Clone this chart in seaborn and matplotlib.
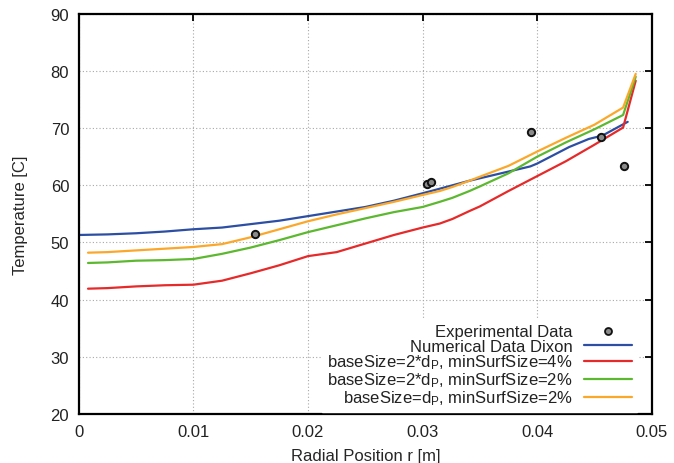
import numpy as np
import pandas as pd
import matplotlib
matplotlib.use("Agg")
import matplotlib.pyplot as plt
import seaborn as sns
from matplotlib.lines import Line2D

# Dados
r_dixon = [0.0, 0.0025, 0.005, 0.0075, 0.01, 0.0125, 0.015, 0.0175, 0.02, 0.0225,
           0.025, 0.0275, 0.03, 0.0315, 0.0341, 0.0375, 0.0394, 0.04, 0.0428, 0.0445,
           0.0457, 0.0479]
t_dixon = [51.3, 51.4, 51.6, 51.9, 52.3, 52.6, 53.2, 53.8, 54.6, 55.4,
           56.2, 57.3, 58.6, 59.4, 60.8, 62.4, 63.3, 63.8, 66.7, 68.1,
           68.7, 71.1]

r_sim = [0.0008, 0.0025, 0.005, 0.0075, 0.01, 0.0125, 0.015, 0.0175, 0.02, 0.0225,
         0.025, 0.0275, 0.03, 0.0315, 0.0326, 0.0341, 0.035, 0.0375, 0.04, 0.0425,
         0.045, 0.0475, 0.0486]
t_4pct = [41.9, 42.0, 42.3, 42.5, 42.6, 43.3, 44.6, 46.0, 47.6, 48.3,
          49.8, 51.3, 52.6, 53.3, 54.1, 55.5, 56.3, 59.0, 61.6, 64.2,
          67.1, 70.1, 78.3]
t_2pct = [46.4, 46.5, 46.8, 46.9, 47.1, 48.0, 49.1, 50.4, 51.8, 53.0,
          54.2, 55.3, 56.2, 57.1, 57.8, 59.0, 59.8, 62.1, 65.0, 67.5,
          69.8, 72.3, 79.0]
t_dp = [48.2, 48.3, 48.6, 48.9, 49.2, 49.7, 50.9, 52.3, 53.7, 54.9,
        56.0, 57.1, 58.3, 59.0, 59.7, 60.8, 61.5, 63.4, 65.9, 68.3,
        70.6, 73.6, 79.5]

r_exp = [0.0154, 0.0304, 0.0307, 0.0395, 0.0456, 0.0476]
t_exp = [51.5, 60.3, 60.5, 69.4, 68.4, 63.4]

rotulos = [
    "Numerical Data Dixon",
    "baseSize=2*d$_P$, minSurfSize=4%",
    "baseSize=2*d$_P$, minSurfSize=2%",
    "baseSize=d$_P$, minSurfSize=2%",
]
cores = ["#2c4fa3", "#e62a2a", "#5cb82e", "#fba82a"]

# Montando DataFrame em formato longo
df = pd.concat([
    pd.DataFrame({"r": r_dixon, "T": t_dixon, "serie": rotulos[0]}),
    pd.DataFrame({"r": r_sim, "T": t_4pct, "serie": rotulos[1]}),
    pd.DataFrame({"r": r_sim, "T": t_2pct, "serie": rotulos[2]}),
    pd.DataFrame({"r": r_sim, "T": t_dp, "serie": rotulos[3]}),
])
df_exp = pd.DataFrame({"r": r_exp, "T": t_exp})

sns.set_style("white")
plt.rcParams["font.family"] = ["Liberation Sans", "DejaVu Sans"]
plt.rcParams["mathtext.default"] = "regular"

fig, ax = plt.subplots(figsize=(6.74, 4.64), dpi=100)
fig.subplots_adjust(left=0.117, right=0.967, bottom=0.106, top=0.968)

sns.lineplot(data=df, x="r", y="T", hue="serie", palette=cores, hue_order=rotulos,
             estimator=None, sort=False, linewidth=1.6, legend=False, ax=ax)
sns.scatterplot(data=df_exp, x="r", y="T", marker="o", s=28, color="#8a8a8a",
                edgecolor="#111111", linewidth=1.4, zorder=5, legend=False, ax=ax)

# Eixos
ax.set_xlim(0, 0.05)
ax.set_ylim(20, 90)
ax.set_xticks([0, 0.01, 0.02, 0.03, 0.04, 0.05])
ax.set_xticklabels(["0", "0.01", "0.02", "0.03", "0.04", "0.05"])
ax.set_yticks(range(20, 91, 10))
ax.set_xlabel("Radial Position r [m]", fontsize=12, labelpad=7)
ax.set_ylabel("Temperature [C]", fontsize=12, labelpad=16)
ax.tick_params(direction="in", length=5, width=1.3, labelsize=12, pad=7,
               top=True, right=True, colors="black", labelcolor="#222222")
for s in ax.spines.values():
    s.set_visible(True)
    s.set_linewidth(1.6)
    s.set_color("black")
ax.grid(True, linestyle=(0, (1, 2)), color="#a8a8a8", linewidth=0.8)

# Legenda estilo gnuplot
handles = [Line2D([], [], marker="o", linestyle="", markersize=5,
                  markerfacecolor="#8a8a8a", markeredgecolor="#111111", markeredgewidth=1.3)]
handles += [Line2D([], [], color=c, linewidth=1.6) for c in cores]
leg = ax.legend(handles, ["Experimental Data"] + rotulos, loc="lower right",
                bbox_to_anchor=(0.974, 0.004), markerfirst=False, fontsize=12,
                labelspacing=-0.05, handlelength=2.9, handletextpad=0.65,
                borderaxespad=0.0, borderpad=0.3,
                frameon=True, fancybox=False, framealpha=1)
leg.get_frame().set_edgecolor("white")
leg.get_frame().set_facecolor("white")
for t in leg.get_texts():
    t.set_ha("right")
    t.set_color("#222222")

plt.savefig("out.png", dpi=100)
